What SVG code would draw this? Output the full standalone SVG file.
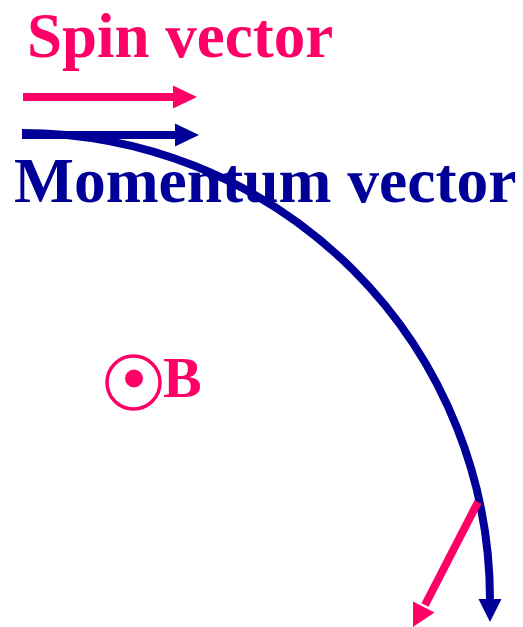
<svg xmlns="http://www.w3.org/2000/svg" width="523" height="627" viewBox="0 0 523 627">
<style>
.lbl{font-family:"Liberation Serif","Times New Roman",serif;font-weight:bold}
.pink{fill:#FF0066}
.navy{fill:#000099}
.pl{stroke:#FF0066;stroke-width:8;fill:none}
.nl{stroke:#000099;stroke-width:8;fill:none}
</style>
<rect width="523" height="627" fill="#FFFFFF"/>
<g id="spin-label"><text class="lbl pink" x="27" y="56.5" font-size="63">Spin vector</text></g>
<g id="momentum-label"><text class="lbl navy" x="14" y="202" font-size="63.5">Momentum vector</text></g>
<g id="field-B">
<circle cx="133.5" cy="382.5" r="26.5" fill="none" stroke="#FF0066" stroke-width="3.5"/>
<circle cx="134" cy="378.5" r="9" class="pink"/>
<text class="lbl pink" x="163" y="397" font-size="58">B</text>
</g>
<g id="connectors">
<line class="pl" x1="23" y1="97" x2="176" y2="97"/>
<polygon class="pink" points="173,85.5 197,97 173,108.5"/>
<line class="nl" x1="22" y1="135" x2="178" y2="135" stroke-width="7"/>
<polygon class="navy" points="175,123.5 199,135 175,146.5"/>
<path class="nl" d="M22,133 A468,467 0 0 1 490,600"/>
<polygon class="navy" points="478.5,599 501.5,599 490,622"/>
<line class="pl" x1="478" y1="502" x2="425" y2="605"/>
<polygon class="pink" points="413,601.5 434.5,612.5 413,627"/>
</g>
</svg>
